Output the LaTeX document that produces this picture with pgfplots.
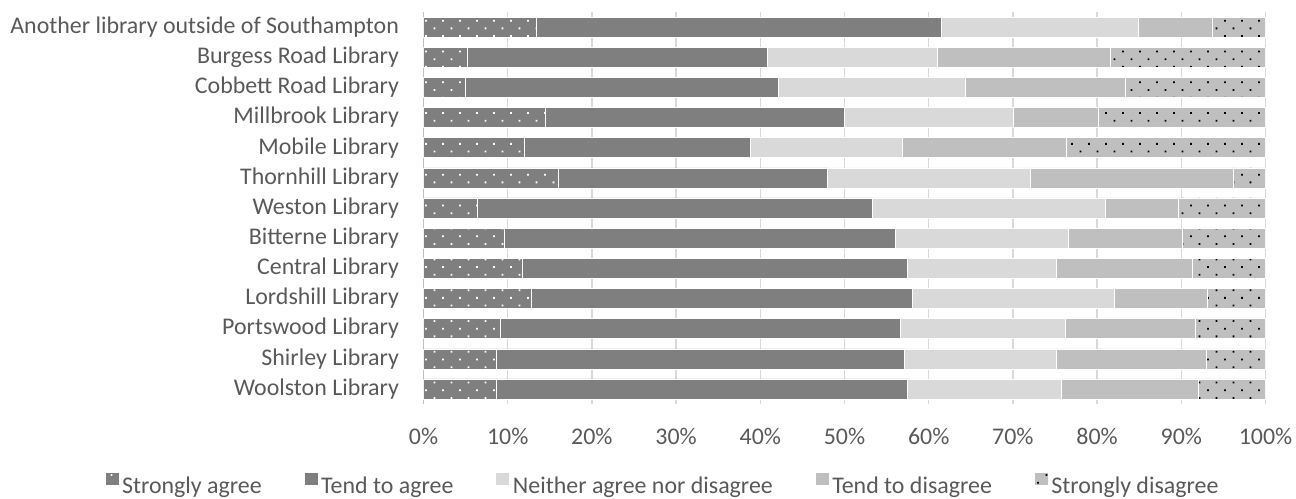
\documentclass[border=0pt]{standalone}
\usepackage{pgfplots}
\pgfplotsset{compat=1.18}
\usepackage{pgfplotstable}
\usepackage{fontspec}
\setmainfont{Carlito}
\usetikzlibrary{patterns}

\definecolor{cdark}{HTML}{7F7F7F}
\definecolor{clight}{HTML}{D9D9D9}
\definecolor{cmid}{HTML}{BFBFBF}
\definecolor{ctext}{HTML}{595959}
\definecolor{cgrid}{HTML}{D9D9D9}

% sparse staggered dot pattern used for the two "strongly" answers
\pgfdeclarepatternformonly{sparsedots}{\pgfqpoint{-1bp}{-1bp}}{\pgfqpoint{18bp}{16.4bp}}{\pgfqpoint{17bp}{15.4bp}}{%
  \pgfpathrectangle{\pgfqpoint{0bp}{0bp}}{\pgfqpoint{1.8bp}{1.8bp}}%
  \pgfpathrectangle{\pgfqpoint{8.5bp}{7.7bp}}{\pgfqpoint{1.8bp}{1.8bp}}%
  \pgfusepath{fill}}

% share of responses (%) per library, row 0 = bottom bar
\pgfplotstableread{
y  sa    ta    ne    td    sd
0  8.7   48.7  18.3  16.3  8.0
1  8.6   48.5  18.0  17.9  7.0
2  9.1   47.5  19.6  15.4  8.4
3  12.8  45.2  24.0  11.1  6.9
4  11.7  45.8  17.7  16.1  8.7
5  9.6   46.4  20.6  13.5  9.9
6  6.4   46.9  27.7  8.6   10.4
7  16.0  32.0  24.1  24.1  3.8
8  12.0  26.8  18.0  19.5  23.7
9  14.5  35.5  20.1  10.0  19.9
10 5.0   37.1  22.2  19.1  16.6
11 5.2   35.6  20.2  20.6  18.4
12 13.4  48.1  23.4  8.8   6.3
}\libdata

\begin{document}
\begin{tikzpicture}
\useasboundingbox (-423.5bp,-95bp) rectangle (872.5bp,404bp);
\begin{axis}[
  at={(0,0)}, anchor=south west,
  scale only axis, width=842bp, height=392bp,
  xbar stacked, bar width=20bp,
  xmin=0, xmax=100, ymin=-0.5, ymax=12.5,
  xtick={0,10,...,100},
  xticklabel={\pgfmathprintnumber{\tick}\%},
  ytick={0,...,12},
  yticklabels={Woolston Library, Shirley Library, Portswood Library,
    Lordshill Library, Central Library, Bitterne Library, Weston Library,
    Thornhill Library, Mobile Library, Millbrook Library,
    Cobbett Road Library, Burgess Road Library,
    Another library outside of Southampton},
  axis y line*=left, axis x line*=bottom,
  x axis line style={draw=none},
  y axis line style={draw=cmid, line width=1bp, -},
  major tick length=0pt,
  xmajorgrids, grid style={draw=cgrid, line width=1.3bp},
  /pgf/number format/assume math mode=true,
  tick label style={font=\fontsize{24}{28}\selectfont, text=ctext},
  xticklabel style={yshift=-21bp},
  yticklabel style={xshift=-21bp},
  legend style={at={(0.2827,-0.2045)}, anchor=center, draw=none,
    font=\fontsize{24}{28}\selectfont, text=ctext,
    nodes={inner xsep=0pt},
    legend columns=5, inner xsep=0pt,
    /tikz/every odd column/.append style={column sep=3bp},
    /tikz/every even column/.append style={column sep=42bp}},
  legend image code/.code={\path[#1] (0bp,0.5bp) rectangle (14bp,13.5bp);},
]
\addplot[fill=cdark, draw=white, line width=0.5bp,
  postaction={pattern=sparsedots, pattern color=white}]
  table[x=sa, y=y] {\libdata};
\addplot[fill=cdark, draw=white, line width=0.5bp] table[x=ta, y=y] {\libdata};
\addplot[fill=clight, draw=white, line width=0.5bp] table[x=ne, y=y] {\libdata};
\addplot[fill=cmid, draw=white, line width=0.5bp] table[x=td, y=y] {\libdata};
\addplot[fill=cmid, draw=white, line width=0.5bp,
  postaction={pattern=sparsedots, pattern color=black}]
  table[x=sd, y=y] {\libdata};
\legend{Strongly agree, Tend to agree, Neither agree nor disagree, Tend to disagree, Strongly disagree}
\end{axis}
\end{tikzpicture}
\end{document}
